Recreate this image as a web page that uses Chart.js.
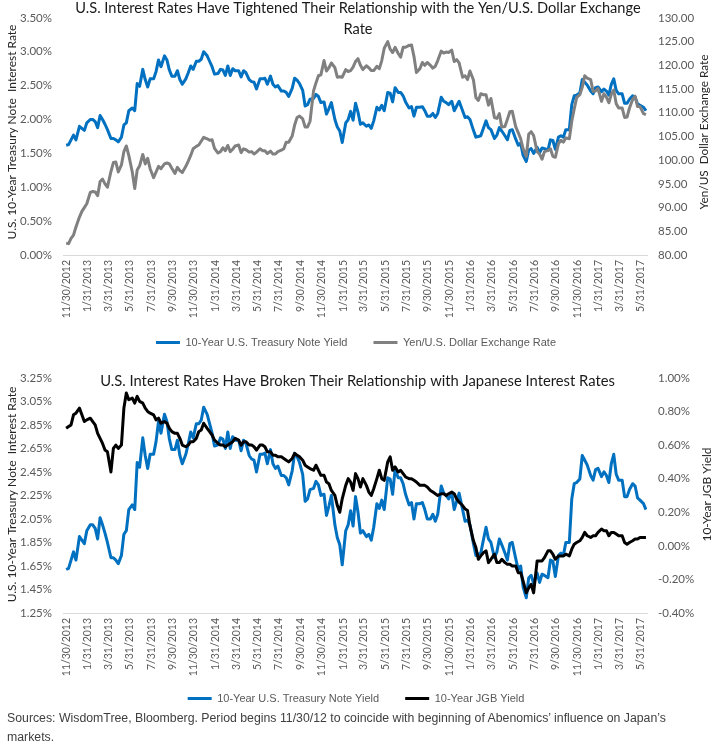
<!DOCTYPE html>
<html>
<head>
<meta charset="utf-8">
<script src="https://cdn.jsdelivr.net/npm/chart.js@4.4.1/dist/chart.umd.min.js"></script>
<style>
html,body{margin:0;padding:0;background:#fff;}
#wrap{position:relative;width:712px;height:747px;overflow:hidden;background:#fff;}
canvas{position:absolute;left:0;}
#c1{top:0;}
#c2{top:360px;}
#foot{position:absolute;left:7px;top:709px;width:705px;font-family:'Liberation Sans',Arial,sans-serif;font-size:12.3px;line-height:19px;color:#404040;white-space:nowrap;}
</style>
</head>
<body>
<div id="wrap">
<canvas id="c1" width="712" height="366"></canvas>
<canvas id="c2" width="712" height="364"></canvas>
<div id="foot">Sources: WisdomTree, Bloomberg. Period begins 11/30/12 to coincide with beginning of Abenomics’ influence on Japan’s<br>markets.</div>
</div>
<script>
// ---------------- DATA ----------------
const dates = [
"2012-11-30",
"2012-12-07","2012-12-14","2012-12-21","2012-12-28",
"2013-01-07","2013-01-14","2013-01-21","2013-01-28","2013-02-07","2013-02-14","2013-02-21","2013-02-28",
"2013-03-07","2013-03-14","2013-03-21","2013-03-28","2013-04-07","2013-04-14","2013-04-21","2013-04-28",
"2013-05-07","2013-05-14","2013-05-21","2013-05-28","2013-06-07","2013-06-14","2013-06-21","2013-06-28",
"2013-07-07","2013-07-14","2013-07-21","2013-07-28","2013-08-07","2013-08-14","2013-08-21","2013-08-28",
"2013-09-07","2013-09-14","2013-09-21","2013-09-28","2013-10-07","2013-10-14","2013-10-21","2013-10-28",
"2013-11-07","2013-11-14","2013-11-21","2013-11-28","2013-12-07","2013-12-14","2013-12-21","2013-12-28",
"2014-01-07","2014-01-14","2014-01-21","2014-01-28","2014-02-07","2014-02-14","2014-02-21","2014-02-28",
"2014-03-07","2014-03-14","2014-03-21","2014-03-28","2014-04-07","2014-04-14","2014-04-21","2014-04-28",
"2014-05-07","2014-05-14","2014-05-21","2014-05-28","2014-06-07","2014-06-14","2014-06-21","2014-06-28",
"2014-07-07","2014-07-14","2014-07-21","2014-07-28","2014-08-07","2014-08-14","2014-08-21","2014-08-28",
"2014-09-07","2014-09-14","2014-09-21","2014-09-28","2014-10-07","2014-10-14","2014-10-21","2014-10-28",
"2014-11-07","2014-11-14","2014-11-21","2014-11-28","2014-12-07","2014-12-14","2014-12-21","2014-12-28",
"2015-01-07","2015-01-14","2015-01-21","2015-01-28","2015-02-07","2015-02-14","2015-02-21","2015-02-28",
"2015-03-07","2015-03-14","2015-03-21","2015-03-28","2015-04-07","2015-04-14","2015-04-21","2015-04-28",
"2015-05-07","2015-05-14","2015-05-21","2015-05-28","2015-06-07","2015-06-14","2015-06-21","2015-06-28",
"2015-07-07","2015-07-14","2015-07-21","2015-07-28","2015-08-07","2015-08-14","2015-08-21","2015-08-28",
"2015-09-07","2015-09-14","2015-09-21","2015-09-28","2015-10-07","2015-10-14","2015-10-21","2015-10-28",
"2015-11-07","2015-11-14","2015-11-21","2015-11-28","2015-12-07","2015-12-14","2015-12-21","2015-12-28",
"2016-01-07","2016-01-14","2016-01-21","2016-01-28","2016-02-07","2016-02-14","2016-02-21","2016-02-28",
"2016-03-07","2016-03-14","2016-03-21","2016-03-28","2016-04-07","2016-04-14","2016-04-21","2016-04-28",
"2016-05-07","2016-05-14","2016-05-21","2016-05-28","2016-06-07","2016-06-14","2016-06-21","2016-06-28",
"2016-07-07","2016-07-14","2016-07-21","2016-07-28","2016-08-07","2016-08-14","2016-08-21","2016-08-28",
"2016-09-07","2016-09-14","2016-09-21","2016-09-28","2016-10-07","2016-10-14","2016-10-21","2016-10-28",
"2016-11-07","2016-11-14","2016-11-21","2016-11-28","2016-12-07","2016-12-14","2016-12-21","2016-12-28",
"2017-01-07","2017-01-14","2017-01-21","2017-01-28","2017-02-07","2017-02-14","2017-02-21","2017-02-28",
"2017-03-07","2017-03-14","2017-03-21","2017-03-28","2017-04-07","2017-04-14","2017-04-21","2017-04-28",
"2017-05-07","2017-05-14","2017-05-21","2017-05-28","2017-06-07","2017-06-14"
];

// 10-Year U.S. Treasury Note Yield (%)
const ustYield = [
1.62,
1.63,1.70,1.77,1.70,
1.90,1.87,1.84,1.95, 2.00,2.00,1.97,1.88, 2.06,2.00,1.93,1.85, 1.72,1.72,1.70,1.67,
1.74,1.92,1.95,2.13, 2.17,2.13,2.53,2.49, 2.74,2.59,2.48,2.60, 2.60,2.71,2.88,2.78,
2.94,2.88,2.73,2.64, 2.64,2.72,2.59,2.52, 2.60,2.69,2.79,2.74, 2.86,2.86,2.89,3.00,
2.94,2.86,2.78,2.67, 2.68,2.74,2.73,2.65, 2.79,2.65,2.75,2.72, 2.72,2.63,2.72,2.69,
2.59,2.56,2.55,2.45, 2.60,2.60,2.61,2.52, 2.64,2.52,2.48,2.50, 2.42,2.42,2.40,2.34,
2.46,2.61,2.58,2.53, 2.43,2.20,2.22,2.30, 2.31,2.37,2.34,2.25, 2.26,2.08,2.16,2.25,
2.00,1.89,1.83,1.66, 1.95,2.00,2.12,1.99, 2.24,2.11,1.93,1.95, 1.90,1.92,1.87,1.98,
2.18,2.14,2.21,2.13, 2.40,2.39,2.26,2.47, 2.40,2.40,2.35,2.26, 2.17,2.19,2.05,2.18,
2.18,2.19,2.13,2.05, 2.05,2.09,2.03,2.09, 2.33,2.27,2.25,2.22, 2.27,2.13,2.20,2.27,
2.13,2.03,2.04,2.00, 1.84,1.74,1.75,1.76, 1.88,1.98,1.88,1.85, 1.72,1.77,1.88,1.83,
1.76,1.70,1.84,1.85, 1.71,1.62,1.65,1.47, 1.38,1.55,1.57,1.50, 1.59,1.51,1.58,1.57,
1.55,1.70,1.69,1.56, 1.74,1.76,1.74,1.85, 1.85,2.22,2.35,2.36, 2.39,2.59,2.55,2.51,
2.42,2.38,2.47,2.48, 2.41,2.45,2.42,2.36, 2.52,2.60,2.43,2.38, 2.38,2.24,2.24,2.30,
2.35,2.33,2.23,2.21, 2.18,2.13
];

// Yen/U.S. Dollar Exchange Rate
const usdJpy = [
82.5,
82.4,83.5,84.2,85.9,
88.0,89.2,90.0,90.8, 93.2,93.4,93.3,92.5, 95.5,96.0,95.0,94.3, 97.6,99.5,99.6,97.5,
99.0,101.8,103.0,101.0, 97.5,94.0,97.9,98.8, 101.2,99.2,100.4,98.2, 96.3,97.5,98.7,98.2,
99.2,99.4,99.2,98.3, 97.2,98.5,97.8,97.4, 98.7,99.8,101.0,102.4, 102.9,103.2,104.0,104.8,
104.5,104.2,104.3,102.5, 101.5,101.8,102.6,102.0, 103.1,101.8,102.3,103.0, 103.2,101.6,102.4,102.2,
101.7,101.8,101.3,101.7, 102.4,102.0,102.0,101.4, 101.9,101.3,101.3,101.8, 102.1,102.4,103.8,103.8,
105.1,107.4,109.0,109.3, 108.7,107.0,107.0,108.2, 114.6,116.3,117.8,118.0, 121.0,118.8,119.5,120.5,
119.5,117.5,117.6,117.5, 119.1,118.7,118.9,119.6, 120.8,121.4,120.0,119.1, 119.9,119.5,118.9,118.9,
119.8,119.3,121.0,123.6, 125.0,123.4,122.7,123.8, 122.5,121.7,123.8,123.8, 124.2,124.3,121.9,118.5,
119.3,120.6,120.0,120.6, 120.0,119.4,119.8,121.0, 123.0,122.6,122.8,122.7, 123.2,120.8,121.2,120.5,
117.5,117.8,117.0,118.8, 116.9,113.2,112.6,114.0, 113.8,113.8,111.6,113.0, 109.0,108.8,109.8,107.0,
107.1,108.6,110.2,110.3, 107.0,105.8,104.5,102.4, 100.8,105.5,106.0,105.2, 101.8,101.3,100.2,101.8,
102.0,102.4,100.8,100.6, 103.5,104.2,103.8,104.7, 104.5,108.2,110.8,113.2, 113.8,115.4,117.8,117.3,
117.0,114.5,114.6,115.1, 112.4,114.0,113.3,112.1, 113.9,114.8,111.9,111.0, 111.0,109.0,109.1,111.0,
112.8,113.5,111.3,111.3, 109.8,109.6
];

// 10-Year JGB Yield (%)
const jgbYield = [
0.70,
0.71,0.72,0.78,0.79,
0.82,0.78,0.74,0.75, 0.76,0.74,0.72,0.67, 0.64,0.61,0.57,0.56, 0.44,0.58,0.60,0.58,
0.60,0.82,0.91,0.87, 0.88,0.85,0.89,0.86, 0.85,0.82,0.80,0.79, 0.78,0.75,0.76,0.73,
0.74,0.73,0.70,0.68, 0.67,0.67,0.64,0.60, 0.59,0.60,0.62,0.62, 0.64,0.68,0.69,0.73,
0.70,0.68,0.66,0.63, 0.61,0.60,0.60,0.59, 0.60,0.61,0.62,0.64, 0.63,0.60,0.62,0.62,
0.60,0.60,0.59,0.57, 0.60,0.60,0.59,0.56, 0.56,0.54,0.54,0.53, 0.53,0.52,0.51,0.50,
0.52,0.55,0.54,0.53, 0.51,0.48,0.47,0.46, 0.45,0.48,0.45,0.42, 0.42,0.38,0.37,0.33,
0.30,0.24,0.20,0.28, 0.36,0.40,0.38,0.33, 0.43,0.40,0.35,0.40, 0.36,0.32,0.30,0.34,
0.40,0.45,0.40,0.39, 0.50,0.53,0.45,0.47, 0.44,0.45,0.43,0.41, 0.40,0.40,0.39,0.38,
0.36,0.36,0.36,0.35, 0.33,0.32,0.31,0.30, 0.31,0.31,0.30,0.31, 0.32,0.31,0.28,0.26,
0.24,0.22,0.21,0.12, 0.03,-0.01,-0.08,-0.06, -0.04,-0.03,-0.10,-0.08, -0.05,-0.10,-0.10,-0.08,
-0.10,-0.11,-0.11,-0.12, -0.12,-0.16,-0.16,-0.21, -0.28,-0.25,-0.23,-0.28, -0.09,-0.09,-0.09,-0.07,
-0.03,-0.03,-0.05,-0.08, -0.06,-0.06,-0.06,-0.05, -0.06,-0.02,0.01,0.02, 0.03,0.05,0.08,0.06,
0.05,0.06,0.06,0.08, 0.10,0.09,0.09,0.06, 0.08,0.08,0.07,0.06, 0.06,0.02,0.01,0.02,
0.03,0.04,0.04,0.05, 0.05,0.05
];

const xTickLabels = ["11/30/2012","1/31/2013","3/31/2013","5/31/2013","7/31/2013","9/30/2013","11/30/2013",
"1/31/2014","3/31/2014","5/31/2014","7/31/2014","9/30/2014","11/30/2014","1/31/2015","3/31/2015","5/31/2015",
"7/31/2015","9/30/2015","11/30/2015","1/31/2016","3/31/2016","5/31/2016","7/31/2016","9/30/2016","11/30/2016",
"1/31/2017","3/31/2017","5/31/2017"];
const topLeftTicks = [0,0.5,1,1.5,2,2.5,3,3.5];
const topRightTicks = [80,85,90,95,100,105,110,115,120,125,130];
const botLeftTicks = [1.25,1.45,1.65,1.85,2.05,2.25,2.45,2.65,2.85,3.05,3.25];
const botRightTicks = [-0.4,-0.2,0,0.2,0.4,0.6,0.8,1.0];

const titleTop = ["U.S. Interest Rates Have Tightened Their Relationship with the Yen/U.S. Dollar Exchange", "Rate"];
const titleBottom = "U.S. Interest Rates Have Broken Their Relationship with Japanese Interest Rates";
const seriesNames = ["10-Year U.S. Treasury Note Yield","Yen/U.S. Dollar Exchange Rate","10-Year JGB Yield"];

// ---------------- HELPERS ----------------
const DAY = 86400000;
const T0 = Date.UTC(2012,10,30);
function isoDay(s){const p=s.split('-').map(Number);return Math.round((Date.UTC(p[0],p[1]-1,p[2])-T0)/DAY);}
function usDay(s){const p=s.split('/').map(Number);return Math.round((Date.UTC(p[2],p[0]-1,p[1])-T0)/DAY);}
const xDays = dates.map(isoDay);
const xTickDays = xTickLabels.map(usDay);
const pts = arr => arr.map((v,i)=>({x:xDays[i], y:v}));

const CAL = "Lato, 'Open Sans', sans-serif";
const NARROW = "'Liberation Sans Narrow','Arial Narrow','Liberation Sans',sans-serif";
const TICK = '#595959';

const overlayText = {
  id:'overlayText',
  afterLayout(chart, args, opts){
    if (chart.legend && opts.legendShift){
      chart.legend.top -= opts.legendShift;
      chart.legend.bottom -= opts.legendShift;
    }
  },
  afterDraw(chart, args, opts){
    const ctx = chart.ctx;
    (opts.items||[]).forEach(it=>{
      ctx.save();
      let size = it.size;
      ctx.font = size+'px '+it.family;
      if (it.fit){ const w = ctx.measureText(it.fitText||it.text).width; size = size*it.fit/w; ctx.font = size+'px '+it.family; }
      ctx.fillStyle = it.color;
      ctx.translate(it.x, it.y);
      if (it.rot) ctx.rotate(it.rot);
      ctx.textAlign = 'center';
      ctx.textBaseline = it.baseline||'alphabetic';
      ctx.fillText(it.text,0,0);
      ctx.restore();
    });
  }
};

function xAxis(h){
  return {
    type:'linear', min:-9, max:1660,
    afterBuildTicks: s=>{ s.ticks = xTickDays.map(v=>({value:v})); },
    afterFit: s=>{ s.height = h; },
    ticks:{autoSkip:false, minRotation:90, maxRotation:90, padding:5,
      callback:(v,i)=>xTickLabels[i], font:{family:CAL,size:10.5}, color:TICK},
    grid:{display:false, drawTicks:false},
    border:{display:true, color:'#d9d9d9', width:1}
  };
}
function yAxis(pos, min, max, ticks, fmt, w){
  return {
    type:'linear', position:pos, min:min, max:max,
    afterBuildTicks: s=>{ s.ticks = ticks.map(v=>({value:v})); },
    afterFit: s=>{ s.width = w; },
    ticks:{padding:11, callback:fmt, font:{family:CAL,size:11.5}, color:TICK},
    grid:{display:false, drawTicks:false},
    border:{display:false}
  };
}
function legendOpts(){
  return {
    position:'bottom',
    labels:{
      boxWidth:24, boxHeight:3, padding:26, color:TICK,
      font:{family:NARROW,size:11},
      sort:(a,b)=>a.datasetIndex-b.datasetIndex,
      generateLabels: ch => Chart.defaults.plugins.legend.labels.generateLabels(ch).map(l=>Object.assign(l,{lineWidth:0}))
    }
  };
}
const lineDs = (label, data, color, axis, order) => ({
  label, data, borderColor:color, backgroundColor:color, borderWidth:3,
  pointRadius:0, tension:0, yAxisID:axis, order, borderJoinStyle:'round'
});

// ---------------- TOP CHART ----------------
new Chart(document.getElementById('c1'), {
  type:'line',
  data:{ datasets:[
    lineDs(seriesNames[0], pts(ustYield), '#0070C0', 'y', 1),
    lineDs(seriesNames[1], pts(usdJpy), '#808080', 'y1', 0)
  ]},
  options:{
    responsive:false, animation:false, devicePixelRatio:1,
    layout:{padding:{top:8,left:0,right:0,bottom:0}},
    scales:{
      x: xAxis(64),
      y: yAxis('left',0,3.5,topLeftTicks,v=>v.toFixed(2)+'%',63),
      y1: yAxis('right',80,130,topRightTicks,v=>v.toFixed(2),65)
    },
    plugins:{
      legend: legendOpts(),
      tooltip:{enabled:false},
      overlayText:{ legendShift:8, items:[
        {text:titleTop[0], x:358, y:13, size:15, family:CAL, color:'#1a1a1a', fit:566},
        {text:titleTop[1], fitText:titleTop[0], x:358, y:33.5, size:15, family:CAL, color:'#1a1a1a', fit:566},
        {text:'U.S. 10-Year Treasury Note  Interest Rate', x:12, y:132, rot:-Math.PI/2, size:13, family:CAL, color:'#262626', baseline:'middle', fit:215},
        {text:'Yen/US  Dollar Exchange Rate', x:704, y:132, rot:-Math.PI/2, size:13, family:CAL, color:'#262626', baseline:'middle', fit:155}
      ]}
    }
  },
  plugins:[overlayText]
});

// ---------------- BOTTOM CHART ----------------
new Chart(document.getElementById('c2'), {
  type:'line',
  data:{ datasets:[
    lineDs(seriesNames[0], pts(ustYield), '#0070C0', 'y', 1),
    lineDs(seriesNames[2], pts(jgbYield), '#000000', 'y1', 0)
  ]},
  options:{
    responsive:false, animation:false, devicePixelRatio:1,
    layout:{padding:{top:15,left:0,right:0,bottom:0}},
    scales:{
      x: xAxis(64),
      y: yAxis('left',1.25,3.25,botLeftTicks,v=>v.toFixed(2)+'%',63),
      y1: yAxis('right',-0.4,1.0,botRightTicks,v=>v.toFixed(2)+'%',65)
    },
    plugins:{
      legend: legendOpts(),
      tooltip:{enabled:false},
      overlayText:{ legendShift:10, items:[
        {text:titleBottom, x:357.5, y:26, size:15, family:CAL, color:'#1a1a1a', fit:515},
        {text:'U.S. 10-Year Treasury Note  Interest Rate', x:12, y:134.5, rot:-Math.PI/2, size:13, family:CAL, color:'#262626', baseline:'middle', fit:216},
        {text:'10-Year JGB Yield', x:707, y:134.5, rot:-Math.PI/2, size:13, family:CAL, color:'#262626', baseline:'middle', fit:94}
      ]}
    }
  },
  plugins:[overlayText]
});
</script>
</body>
</html>
